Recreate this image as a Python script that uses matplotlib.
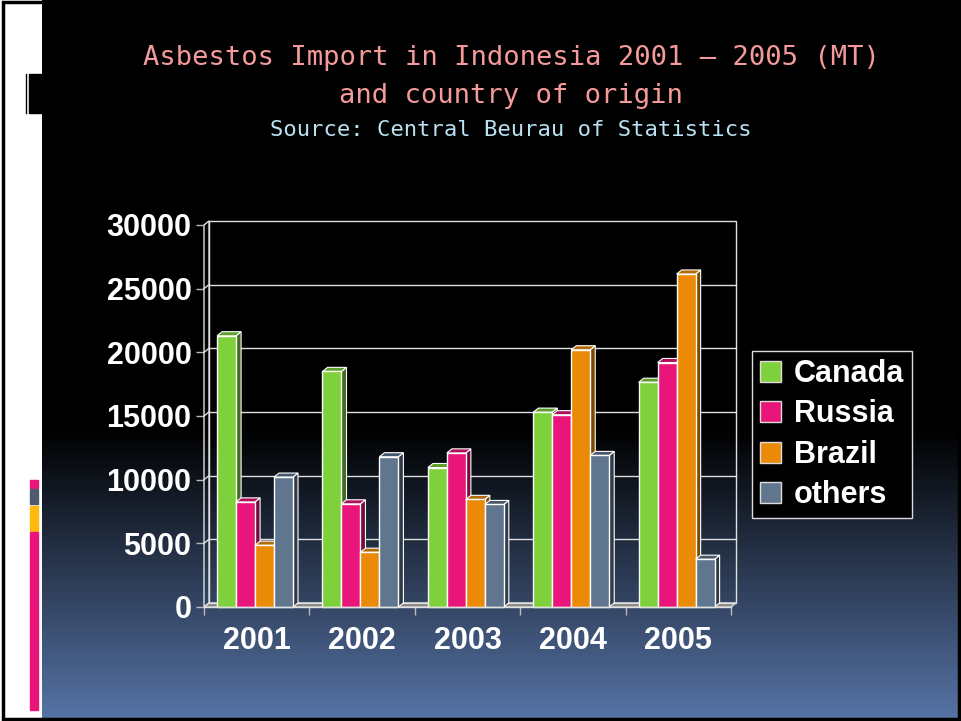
import numpy as np
import matplotlib
matplotlib.use("Agg")
import matplotlib.pyplot as plt
from matplotlib.patches import Polygon, Rectangle, Patch

years = ["2001", "2002", "2003", "2004", "2005"]
countries = ["Canada", "Russia", "Brazil", "others"]
canada = [21300, 18500, 10950, 15300, 17650]
russia = [8250, 8100, 12100, 15100, 19200]
brazil = [4850, 4300, 8450, 20200, 26150]
others = [10200, 11800, 8050, 11900, 3750]
series = [canada, russia, brazil, others]

front_colors = ["#7FD13B", "#EA157A", "#EA8A06", "#60768F"]
top_colors = ["#5E9E2A", "#B0105B", "#B26A04", "#47586C"]
side_colors = ["#3F6B1C", "#760A3D", "#7A4A03", "#2F3B49"]

plt.rcParams["font.family"] = ["Liberation Sans", "DejaVu Sans"]

W, H = 961, 721
fig = plt.figure(figsize=(W / 100, H / 100), dpi=100)

# slide background (pixel coordinates)
bg = fig.add_axes([0, 0, 1, 1])
bg.set_xlim(0, W)
bg.set_ylim(H, 0)
bg.axis("off")
bg.add_patch(Rectangle((0, 0), W, H, color="white", zorder=0))
rows = np.linspace(0, H, 400)
t = np.clip((rows - 430) / (718 - 430), 0, 1)
bottom = np.array([0x56, 0x73, 0xA5]) / 255
grad = (t[:, None] * bottom[None, :])[:, None, :]
bg.imshow(grad, extent=[42, W, H, 0], aspect="auto", zorder=1)
bg.add_patch(Rectangle((3, 2), W - 5, H - 4, fill=False, ec="black", lw=2.5, zorder=3))
bg.add_patch(Rectangle((29, 74), 12, 39, color="black", zorder=2))
bg.plot([26, 26], [74, 113], color="black", lw=1, zorder=2)
bg.add_patch(Rectangle((30, 480), 8, 8, color="#EA157A", zorder=2))
bg.add_patch(Rectangle((30, 489), 8, 15, color="#4F5A6E", zorder=2))
bg.add_patch(Rectangle((30, 506), 8, 25, color="#FFB90F", zorder=2))
bg.add_patch(Rectangle((30, 532), 8, 178, color="#EA157A", zorder=2))

# titles
fig.text(511 / W, 1 - 58 / H, "Asbestos Import in Indonesia 2001 \u2013 2005 (MT)",
         family="DejaVu Sans Mono", fontsize=19.5, color="#F49A9A", ha="center", va="center")
fig.text(511 / W, 1 - 96 / H, "and country of origin",
         family="DejaVu Sans Mono", fontsize=19.5, color="#F49A9A", ha="center", va="center")
fig.text(511 / W, 1 - 130 / H, "Source: Central Beurau of Statistics",
         family="DejaVu Sans Mono", fontsize=16, color="#B9E2F2", ha="center", va="center")

# chart
ax = fig.add_axes([204 / W, 1 - 607 / H, 527 / W, 382 / H])
ax.set_facecolor("none")
ax.set_xlim(-0.5, 4.5)
ax.set_ylim(0, 30000)
for sp in ax.spines.values():
    sp.set_visible(False)

dx, dy = 0.048, 320
wall = "#E0E0E0"
ax.add_patch(Polygon([(-0.5, 0), (4.5, 0), (4.5 + dx, dy), (-0.5 + dx, dy)],
                     closed=True, fc="#808080", ec=wall, lw=1, clip_on=False, zorder=1))
ax.add_patch(Rectangle((-0.5 + dx, dy), 5, 30000, fill=False, ec=wall, lw=1,
                       clip_on=False, zorder=1))
ax.add_patch(Polygon([(-0.5, 0), (-0.5, 30000), (-0.5 + dx, 30000 + dy), (-0.5 + dx, dy)],
                     closed=True, fill=False, ec=wall, lw=1, clip_on=False, zorder=1))
ax.plot([-0.5, 4.5], [0, 0], color=wall, lw=1, clip_on=False, zorder=40)
for v in range(5000, 30000, 5000):
    ax.plot([-0.5 + dx, 4.5 + dx], [v + dy, v + dy], color=wall, lw=1, clip_on=False, zorder=2)
    ax.plot([-0.5, -0.5 + dx], [v, v + dy], color=wall, lw=1, clip_on=False, zorder=2)

bw = 0.18
xs = np.arange(len(years))
for j, vals in enumerate(series):
    x0 = xs - 0.5 + 0.124 + j * bw
    bars = ax.bar(x0, vals, width=bw, align="edge", color=front_colors[j],
                  edgecolor="white", lw=1, zorder=12 + 3 * j, clip_on=False)
    for b in bars:
        l, w, h = b.get_x(), b.get_width(), b.get_height()
        ax.add_patch(Polygon([(l + w, 0), (l + w + dx, dy), (l + w + dx, h + dy), (l + w, h)],
                             closed=True, fc=side_colors[j], ec="white", lw=0.8,
                             clip_on=False, zorder=10 + 3 * j))
        ax.add_patch(Polygon([(l, h), (l + dx, h + dy), (l + w + dx, h + dy), (l + w, h)],
                             closed=True, fc=top_colors[j], ec="white", lw=0.8,
                             clip_on=False, zorder=11 + 3 * j))

ax.set_yticks(range(0, 30001, 5000))
ax.set_xticks(xs)
ax.set_xticklabels(years)
ax.set_xticks(np.arange(-0.5, 5, 1), minor=True)
ax.tick_params(axis="y", colors="#BBBBBB", length=6, width=1, pad=3,
               labelcolor="white", labelsize=22)
ax.tick_params(axis="x", which="major", length=0, pad=14, labelcolor="white", labelsize=22)
ax.tick_params(axis="x", which="minor", length=6, width=1, colors="#BBBBBB")
for lbl in ax.get_xticklabels() + ax.get_yticklabels():
    lbl.set_fontweight("bold")

handles = [Patch(facecolor=c, edgecolor="#DDDDDD", lw=1) for c in front_colors]
leg = fig.legend(handles, countries, loc="upper left", bbox_to_anchor=(752 / W, 1 - 351 / H),
                 frameon=True, fancybox=False, facecolor="black", edgecolor="#DDDDDD",
                 framealpha=1, fontsize=22, labelcolor="white", handlelength=0.68,
                 handleheight=0.68, handletextpad=0.42, labelspacing=0.34, borderpad=0.26,
                 borderaxespad=0)
for txt in leg.get_texts():
    txt.set_fontweight("bold")

fig.savefig("out.png", dpi=100)
